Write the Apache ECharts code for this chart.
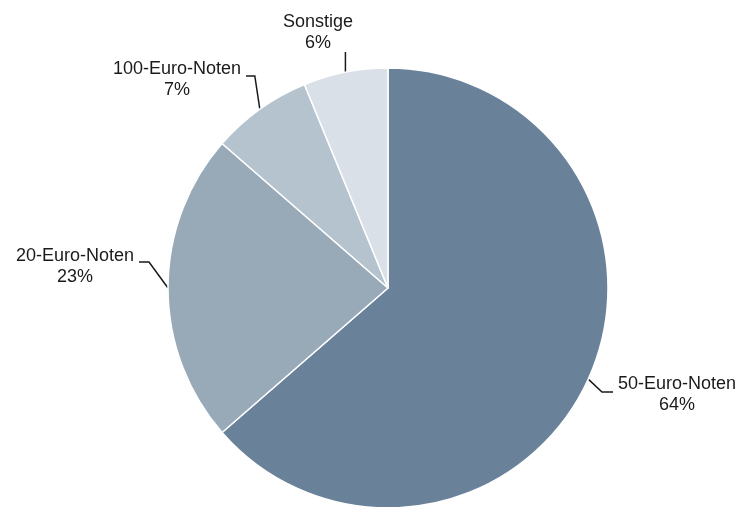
<!DOCTYPE html>
<html><head><meta charset="utf-8">
<script src="https://cdn.jsdelivr.net/npm/echarts@6/dist/echarts.min.js"></script>
<style>html,body{margin:0;padding:0;background:#fff}#c{width:742px;height:507px}</style>
</head><body><div id="c"></div>
<script>
const categories = ['50-Euro-Noten', '20-Euro-Noten', '100-Euro-Noten', 'Sonstige'];
const values = [63.6, 22.8, 7.4, 6.2];
const labels = ['64%', '23%', '7%', '6%'];
const colors = ['#6a8299', '#98a9b8', '#b5c3ce', '#d9e0e7'];

const labelPos = {
  'Sonstige': {x: 318, y: 33, line: p => [p, [p[0], 52], [p[0], 52]]},
  '100-Euro-Noten': {x: 177, y: 80, line: p => [p, [p[0] - 5, 76], [246, 76]]},
  '20-Euro-Noten': {x: 75, y: 267, line: p => [p, [149, 262], [139, 262]]},
  '50-Euro-Noten': {x: 677, y: 395, line: p => [p, [602, 392], [613, 392]]}
};

const chart = echarts.init(document.getElementById('c'));
chart.setOption({
  animation: false,
  series: [{
    type: 'pie',
    center: [388, 288],
    radius: 220,
    startAngle: 90,
    clockwise: true,
    data: categories.map((c, i) => ({name: c, value: values[i], itemStyle: {color: colors[i]}})),
    itemStyle: {borderColor: '#fff', borderWidth: 1.5},
    label: {
      show: true, position: 'outside', overflow: 'none',
      formatter: p => p.name + '\n' + labels[p.dataIndex],
      color: '#1a1a1a', fontFamily: 'Liberation Sans, Arial, sans-serif', fontSize: 18, lineHeight: 21, align: 'center'
    },
    labelLine: {show: true, length: 12, length2: 10, lineStyle: {color: '#1a1a1a', width: 1.5}},
    labelLayout: function (params) {
      const name = categories[params.dataIndex];
      const L = labelPos[name];
      const p0 = params.labelLinePoints ? params.labelLinePoints[0] : [0, 0];
      return {x: L.x, y: L.y, align: 'center', verticalAlign: 'middle', labelLinePoints: L.line(p0)};
    }
  }]
});
</script></body></html>
